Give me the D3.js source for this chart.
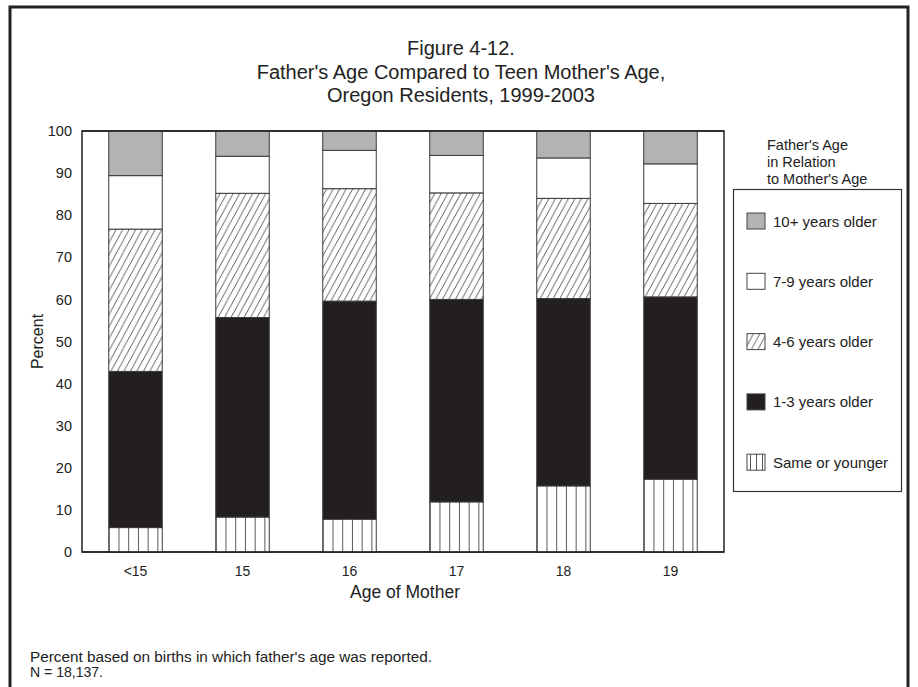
<!DOCTYPE html>
<html>
<head>
<meta charset="utf-8">
<script src="https://cdn.jsdelivr.net/npm/d3@7"></script>
<style>
  html, body { margin: 0; padding: 0; background: #fff; }
  svg { display: block; font-family: "Liberation Sans", Arial, Helvetica, sans-serif; }
</style>
</head>
<body>
<svg id="chart" width="918" height="687"></svg>
<script>
// ---- Data (percent of births) ----
const categories = ["<15", "15", "16", "17", "18", "19"];
const sameOrYounger = [5.8, 8.3, 7.8, 11.9, 15.7, 17.3];
const older1to3     = [37.1, 47.4, 51.8, 48.1, 44.5, 43.3];
const older4to6     = [33.8, 29.5, 26.7, 25.3, 23.8, 22.2];
const older7to9     = [12.7, 8.8, 9.1, 8.9, 9.6, 9.4];
const older10plus   = [10.6, 6.0, 4.6, 5.8, 6.4, 7.8];
const yTicks = [0, 10, 20, 30, 40, 50, 60, 70, 80, 90, 100];

const seriesNames = ["Same or younger", "1-3 years older", "4-6 years older", "7-9 years older", "10+ years older"];
const seriesValues = [sameOrYounger, older1to3, older4to6, older7to9, older10plus];

const svg = d3.select("#chart");
const defs = svg.append("defs");

// Outer frame
svg.append("rect")
  .attr("x", 10).attr("y", 7).attr("width", 898).attr("height", 700)
  .attr("fill", "none").attr("stroke", "#222").attr("stroke-width", 3);

// Title
const titleLines = ["Figure 4-12.", "Father's Age Compared to Teen Mother's Age,", "Oregon Residents, 1999-2003"];
svg.append("g").selectAll("text").data(titleLines).join("text")
  .attr("x", 461).attr("y", (d, i) => 55 + i * 23.5)
  .attr("text-anchor", "middle")
  .attr("font-size", 20).attr("fill", "#222")
  .text(d => d);

const plot = { left: 82, right: 724, top: 131, bottom: 552 };

const x = d3.scaleBand().domain(categories)
  .range([plot.left, plot.right]).paddingInner(0.5).paddingOuter(0.25);
const y = d3.scaleLinear().domain([0, 100]).range([plot.bottom, plot.top]);

// Patterns
// diagonal hatch
const hatch = defs.append("pattern").attr("id", "hatch")
  .attr("patternUnits", "userSpaceOnUse").attr("width", 6.5).attr("height", 12);
hatch.append("rect").attr("width", 6.5).attr("height", 12).attr("fill", "#fff");
hatch.append("path").attr("d", "M-0.5,12.9 L7,-0.9 M-7,12.9 L0.5,-0.9 M6,12.9 L13.5,-0.9")
  .attr("stroke", "#333").attr("stroke-width", 0.8).attr("fill", "none");

// vertical stripes, aligned per bar
categories.forEach((c, i) => {
  const p = defs.append("pattern").attr("id", "vstripe" + i)
    .attr("patternUnits", "userSpaceOnUse")
    .attr("x", x(c)).attr("y", 0)
    .attr("width", x.bandwidth() / 5.5).attr("height", 10);
  p.append("rect").attr("width", x.bandwidth() / 5.5).attr("height", 10).attr("fill", "#fff");
  p.append("line").attr("x1", 0.5).attr("x2", 0.5).attr("y1", 0).attr("y2", 10)
    .attr("stroke", "#444").attr("stroke-width", 0.9);
});
const legendStripe = defs.append("pattern").attr("id", "vstripeLegend")
  .attr("patternUnits", "userSpaceOnUse").attr("x", 747).attr("y", 0)
  .attr("width", 6).attr("height", 10);
legendStripe.append("rect").attr("width", 6).attr("height", 10).attr("fill", "#fff");
legendStripe.append("line").attr("x1", 0.5).attr("x2", 0.5).attr("y1", 0).attr("y2", 10)
  .attr("stroke", "#444").attr("stroke-width", 0.9);

const fills = [
  (i) => `url(#vstripe${i})`,
  () => "#231f20",
  () => "url(#hatch)",
  () => "#fff",
  () => "#b3b3b3"
];
const legendFills = ["url(#vstripeLegend)", "#231f20", "url(#hatch)", "#fff", "#b3b3b3"];

// Stack
const rows = categories.map((c, i) => {
  const r = { cat: c };
  seriesNames.forEach((s, k) => r[s] = seriesValues[k][i]);
  return r;
});
const stacked = d3.stack().keys(seriesNames)(rows);

// Plot frame
svg.append("rect")
  .attr("x", plot.left).attr("y", plot.top)
  .attr("width", plot.right - plot.left).attr("height", plot.bottom - plot.top)
  .attr("fill", "none").attr("stroke", "#222").attr("stroke-width", 1.5);

const gBars = svg.append("g");
stacked.forEach((layer, k) => {
  gBars.append("g").selectAll("rect").data(layer).join("rect")
    .attr("x", d => x(d.data.cat))
    .attr("y", d => y(d[1]))
    .attr("width", x.bandwidth())
    .attr("height", d => y(d[0]) - y(d[1]))
    .attr("fill", (d, i) => fills[k](i))
    .attr("stroke", "#3a3a3a").attr("stroke-width", 1);
});

// redraw frame baseline/top on top
svg.append("line").attr("x1", plot.left).attr("x2", plot.right)
  .attr("y1", plot.bottom).attr("y2", plot.bottom).attr("stroke", "#222").attr("stroke-width", 1.5);
svg.append("line").attr("x1", plot.left).attr("x2", plot.right)
  .attr("y1", plot.top).attr("y2", plot.top).attr("stroke", "#222").attr("stroke-width", 1.5);

// Axes
const yAxis = svg.append("g").attr("transform", `translate(${plot.left},0)`)
  .call(d3.axisLeft(y).tickValues(yTicks).tickSize(0).tickPadding(10));
yAxis.select(".domain").remove();
yAxis.selectAll("text").attr("font-size", 14.5).attr("fill", "#222")
  .attr("font-family", "Liberation Sans, Arial, sans-serif");

const xAxis = svg.append("g").attr("transform", `translate(0,${plot.bottom})`)
  .call(d3.axisBottom(x).tickSize(0).tickPadding(14));
xAxis.select(".domain").remove();
xAxis.selectAll("text").attr("font-size", 14).attr("fill", "#222")
  .attr("font-family", "Liberation Sans, Arial, sans-serif");

// Axis titles
svg.append("text")
  .attr("transform", `translate(43,${(plot.top + plot.bottom) / 2}) rotate(-90)`)
  .attr("text-anchor", "middle").attr("font-size", 16).attr("fill", "#222")
  .text("Percent");
svg.append("text")
  .attr("x", (plot.left + plot.right) / 2 + 2).attr("y", 598)
  .attr("text-anchor", "middle").attr("font-size", 17.5).attr("fill", "#222")
  .text("Age of Mother");

// Legend
const legendTitle = ["Father's Age", "in Relation", "to Mother's Age"];
svg.append("g").selectAll("text").data(legendTitle).join("text")
  .attr("x", 767).attr("y", (d, i) => 150 + i * 17)
  .attr("font-size", 14.5).attr("fill", "#222")
  .text(d => d);

svg.append("rect")
  .attr("x", 733.5).attr("y", 189.5).attr("width", 168).attr("height", 302)
  .attr("fill", "none").attr("stroke", "#333").attr("stroke-width", 1.2);

const legendOrder = [4, 3, 2, 1, 0];
const lg = svg.append("g").selectAll("g").data(legendOrder).join("g")
  .attr("transform", (d, i) => `translate(747,${213 + i * 60.3})`);
lg.append("rect")
  .attr("width", 18).attr("height", 16)
  .attr("fill", d => legendFills[d])
  .attr("stroke", "#444").attr("stroke-width", 1);
lg.append("text")
  .attr("x", 26).attr("y", 13.5)
  .attr("font-size", 15).attr("fill", "#222")
  .text(d => seriesNames[d]);

// Footnote
const notes = ["Percent based on births in which father's age was reported.", "N = 18,137."];
svg.append("g").selectAll("text").data(notes).join("text")
  .attr("x", 30).attr("y", (d, i) => 662 + i * 15)
  .attr("font-size", 14).attr("fill", "#222")
  .attr("textLength", (d, i) => i === 0 ? 402 : 73)
  .attr("lengthAdjust", "spacingAndGlyphs")
  .text(d => d);
</script>
</body>
</html>
